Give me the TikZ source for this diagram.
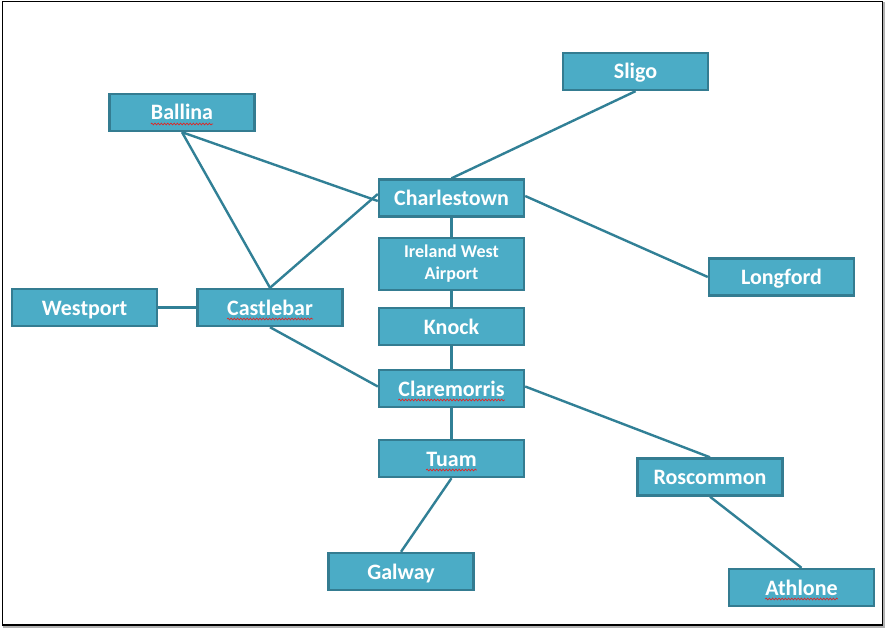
\documentclass[tikz,border=0pt]{standalone}
\usepackage{fontspec}
\setmainfont{Carlito}
\usetikzlibrary{decorations.pathmorphing,backgrounds}
\definecolor{boxfill}{RGB}{75,172,198}
\definecolor{boxedge}{RGB}{52,124,145}
\definecolor{linkcol}{RGB}{49,128,150}
\definecolor{squigred}{RGB}{220,40,40}
\tikzset{
  cityframe/.style={draw=boxedge, fill=boxfill, line width=2.4pt,
    minimum width=145pt, minimum height=37pt, inner sep=0pt,
    text=white, font=\fontsize{22}{26}\selectfont\bfseries,
    text height=16pt, text depth=1pt},
  citytext/.style={inner sep=0pt, text=white,
    font=\fontsize{22}{26}\selectfont\bfseries,
    text height=16pt, text depth=1pt},
  airframe/.style={draw=boxedge, fill=boxfill, line width=2.4pt,
    minimum width=145pt, minimum height=52pt, inner sep=0pt,
    text=white, font=\fontsize{18}{22}\selectfont\bfseries, align=center},
  link/.style={draw=linkcol, line width=2.4pt},
  squig/.style={draw=squigred, line width=0.7pt,
    decorate, decoration={snake, segment length=3.2pt, amplitude=0.9pt}},
}
\begin{document}
\begin{tikzpicture}[x=1pt,y=-1pt]
\useasboundingbox (0,0) rectangle (885,628);

% boxes
\node[cityframe] (sligo) at (635.5,71.5) {Sligo};
\node[cityframe] (ballina) at (182,112.5) {};
\node[citytext] (ballinat) at (ballina) {Ballina};
\node[cityframe] (charlestown) at (451.5,198) {Charlestown};
\node[airframe] (airport) at (451.5,264) {Ireland West\\Airport};
\node[cityframe] (longford) at (781.5,277) {Longford};
\node[cityframe] (westport) at (84.5,307.5) {Westport};
\node[cityframe] (castlebar) at (270,307.5) {};
\node[citytext] (castlebart) at (castlebar) {Castlebar};
\node[cityframe] (knock) at (451.5,326.5) {Knock};
\node[cityframe] (claremorris) at (451.5,388.5) {};
\node[citytext] (claremorrist) at (claremorris) {Claremorris};
\node[cityframe] (tuam) at (451.5,458.5) {};
\node[citytext] (tuamt) at (tuam) {Tuam};
\node[cityframe] (roscommon) at (710,477) {Roscommon};
\node[cityframe] (galway) at (401,571.5) {Galway};
\node[cityframe] (athlone) at (801.5,587.5) {};
\node[citytext] (athlonet) at (athlone) {Athlone};

% spell-check squiggles
\foreach \t in {ballinat,castlebart,claremorrist,tuamt,athlonet}{
  \draw[squig] ([yshift=-4pt]\t.base west) -- ([yshift=-4pt]\t.base east);
}

\begin{scope}[on background layer]
% outer frame with shadow
\draw[gray!60, line width=1.5pt] (4,3) rectangle (884,627);
\draw[black, line width=1.4pt, fill=white] (2.5,1.5) rectangle (882.5,625);
% connectors
\draw[link] (sligo.south) -- (charlestown.north);
\draw[link] (ballina.south) -- ([yshift=-3pt]charlestown.west);
\draw[link] (ballina.south) -- (castlebar.north);
\draw[link] (castlebar.north) -- ([yshift=4pt]charlestown.west);
\draw[link] (westport.east) -- (castlebar.west);
\draw[link] (castlebar.south) -- ([yshift=2pt]claremorris.west);
\draw[link] ([yshift=2pt]charlestown.east) -- (longford.west);
\draw[link] (charlestown.south) -- (airport.north);
\draw[link] (airport.south) -- (knock.north);
\draw[link] (knock.south) -- (claremorris.north);
\draw[link] (claremorris.south) -- (tuam.north);
\draw[link] ([yshift=2pt]claremorris.east) -- (roscommon.north);
\draw[link] (tuam.south) -- (galway.north);
\draw[link] (roscommon.south) -- (athlone.north);
\end{scope}
\end{tikzpicture}
\end{document}
